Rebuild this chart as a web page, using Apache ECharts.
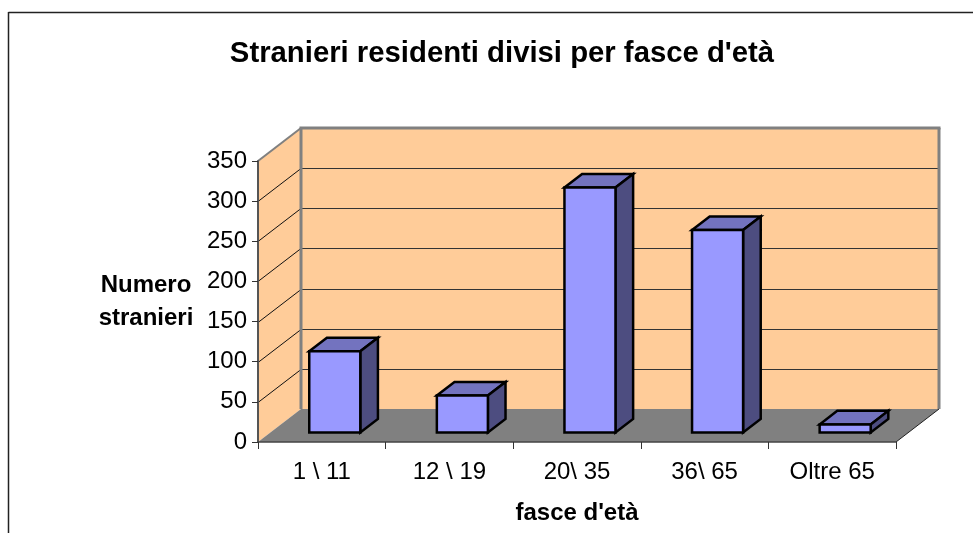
<!DOCTYPE html>
<html>
<head>
<meta charset="utf-8">
<style>html,body{margin:0;padding:0;background:#fff}#c{width:973px;height:533px}</style>
<script src="https://cdn.jsdelivr.net/npm/echarts@6/dist/echarts.min.js"></script>
</head>
<body>
<div id="c"></div>
<script>
const categories = ['1 \\ 11', '12 \\ 19', '20\\ 35', '36\\ 65', 'Oltre 65'];
const values = [101, 46, 305, 252, 10];
const yTicks = [50, 100, 150, 200, 250, 300, 350];
const titleText = "Stranieri residenti divisi per fasce d'età";
const xName = "fasce d'età";
const yName = "Numero\nstranieri";

const DX = 43, DY = 33;            // oblique depth of the box, px
const BAR_FRONT = 0.29, BAR_D = 0.41, BAR_W = 0.4;
const FONT = '"Liberation Sans", Arial, sans-serif';
const WALL = '#FFCC99', FLOOR = '#808080', EDGE = '#808080';

function poly(points, fill, stroke, lw) {
  return { type: 'polygon', shape: { points }, style: { fill, stroke: stroke || 'none', lineWidth: lw || 0, lineJoin: 'miter' } };
}
function seg(a, b, stroke, lw) {
  return { type: 'line', shape: { x1: a[0], y1: a[1], x2: b[0], y2: b[1] }, style: { stroke, lineWidth: lw } };
}

function renderBox(params, api) {
  const band = api.size([1, 0])[0];
  const o = api.coord([0, 0]);
  const x0 = o[0] - band / 2, x1 = x0 + band * categories.length, y0 = o[1];
  const yT = api.coord([0, yTicks[yTicks.length - 1]])[1];
  const c = [
    poly([[x0, yT], [x0 + DX, yT - DY], [x0 + DX, y0 - DY], [x0, y0]], WALL),
    poly([[x0 + DX, yT - DY], [x1 + DX, yT - DY], [x1 + DX, y0 - DY], [x0 + DX, y0 - DY]], WALL),
    poly([[x0, y0], [x0 + DX, y0 - DY], [x1 + DX, y0 - DY], [x1, y0]], FLOOR)
  ];
  yTicks.slice(0, -1).forEach(function (t) {
    const y = Math.round(api.coord([0, t])[1]) + 0.5;
    c.push(seg([x0, y], [x0 + DX, y - DY], '#111', 1));
    c.push(seg([x0 + DX, y - DY], [x1 + DX, y - DY], '#333', 1));
  });
  c.push(seg([x0 + DX, yT - DY], [x0 + DX, y0 - DY], EDGE, 3));
  c.push(seg([x0 + DX - 1.5, yT - DY], [x1 + DX + 1.5, yT - DY], EDGE, 3));
  c.push(seg([x1 + DX, yT - DY], [x1 + DX, y0 - DY], EDGE, 3));
  c.push(seg([x0, yT], [x0 + DX, yT - DY], EDGE, 2));
  c.push(seg([x1, y0], [x1 + DX, y0 - DY], '#222', 1));
  return { type: 'group', children: c };
}

function renderBar(params, api) {
  const p = api.coord([api.value(0), api.value(1)]);
  const base = api.coord([api.value(0), 0]);
  const w = api.size([1, 0])[0] * BAR_W;
  const ox = DX * BAR_FRONT, oy = DY * BAR_FRONT, dx = DX * BAR_D, dy = DY * BAR_D;
  const l = p[0] + ox - w / 2 + 0.5, r = l + w, t = p[1] - oy, b = base[1] - oy;
  return {
    type: 'group',
    children: [
      poly([[l, t], [l + dx, t - dy], [r + dx, t - dy], [r, t]], '#7373BF', '#000', 2.5),
      poly([[r, t], [r + dx, t - dy], [r + dx, b - dy], [r, b]], '#4D4D80', '#000', 2.5),
      poly([[l, t], [r, t], [r, b], [l, b]], '#9999FF', '#000', 2.5)
    ]
  };
}

const chart = echarts.init(document.getElementById('c'), null, { renderer: 'canvas' });
chart.setOption({
  animation: false,
  backgroundColor: '#fff',
  title: {
    text: titleText, left: 497, top: 34, textAlign: 'center',
    textStyle: { fontFamily: FONT, fontSize: 29.3, fontWeight: 'bold', color: '#000' }
  },
  grid: { left: 258, top: 161, width: 638, height: 281 },
  xAxis: {
    type: 'category', data: categories, z: 5,
    name: xName, nameLocation: 'middle', nameGap: 59,
    nameTextStyle: { fontFamily: FONT, fontSize: 24, fontWeight: 'bold', color: '#000' },
    axisLine: { show: true, lineStyle: { color: '#444', width: 1.5 } },
    axisTick: { show: true, alignWithLabel: false, length: 7, lineStyle: { color: '#333', width: 1 } },
    axisLabel: { fontFamily: FONT, fontSize: 24, color: '#000', margin: 18 },
    splitLine: { show: false }
  },
  yAxis: {
    type: 'value', min: 0, max: 350, interval: 50, z: 5,
    name: yName, nameLocation: 'middle', nameGap: 112, nameRotate: 0,
    nameTextStyle: { fontFamily: FONT, fontSize: 24, fontWeight: 'bold', color: '#000', align: 'center', lineHeight: 33 },
    axisLine: { show: true, lineStyle: { color: '#555', width: 2 } },
    axisTick: { show: true, length: 6, lineStyle: { color: '#333', width: 1 } },
    axisLabel: { fontFamily: FONT, fontSize: 24, color: '#000', margin: 11 },
    splitLine: { show: false }
  },
  series: [
    { type: 'custom', z: 1, silent: true, clip: false, renderItem: renderBox, data: [[0, 0]], encode: { x: 0, y: 1 } },
    { type: 'custom', z: 2, silent: true, clip: false, renderItem: renderBar,
      data: values.map(function (v, i) { return [i, v]; }), encode: { x: 0, y: 1 } }
  ],
  graphic: [
    { type: 'line', z: 10, silent: true, shape: { x1: 8.5, y1: 12.5, x2: 973, y2: 12.5 }, style: { stroke: '#222', lineWidth: 1.5 } },
    { type: 'line', z: 10, silent: true, shape: { x1: 8.5, y1: 12, x2: 8.5, y2: 533 }, style: { stroke: '#222', lineWidth: 1.5 } }
  ]
});
</script>
</body>
</html>
